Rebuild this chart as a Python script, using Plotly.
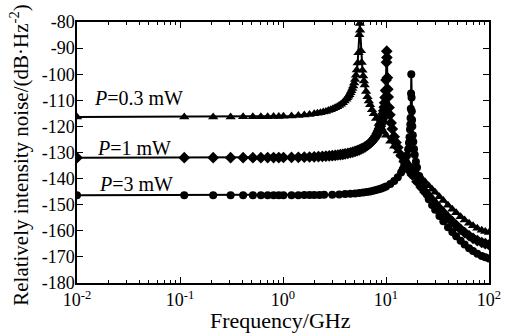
import plotly.graph_objects as go

# ---- data ----
freq_03 = [0.01, 0.11, 0.21, 0.31, 0.41, 0.51, 0.61, 0.71, 0.81, 0.91, 1.01, 1.21, 1.41, 1.61, 1.81, 2.01,
           2.16, 2.31, 2.46, 2.61, 2.76, 2.91, 3.06, 3.21, 3.36, 3.51, 3.66, 3.81, 3.96, 4.11, 4.21, 4.31,
           4.41, 4.51, 4.61, 4.71, 4.81, 4.91, 5.01, 5.11, 5.21, 5.31, 5.41,
           5.51, 5.57, 5.61, 5.71, 5.81, 5.91, 6.01, 6.11, 6.21, 6.41, 6.61, 6.81, 7.01, 7.31, 7.61, 8.01,
           8.51, 9.01, 9.51, 10.01, 11.01, 12.01, 13.01, 14.01, 15.01, 16.51, 18.01, 20.01, 22.01, 24.01,
           26.01, 28.01, 30.01, 33.01, 36.01, 40.01, 44.01, 48.01, 53.01, 58.01, 64.01, 70.01, 77.01, 85.01,
           92.01, 100]
rin_03 = [-116.4, -116.4, -116.39, -116.37, -116.35, -116.33, -116.3, -116.26, -116.21, -116.17, -116.11,
          -115.98, -115.82, -115.64, -115.43, -115.19,
          -114.98, -114.76, -114.52, -114.25, -113.95, -113.63, -113.28, -112.89, -112.47, -112.0, -111.49,
          -110.92, -110.28, -109.57, -109.04, -108.47,
          -107.84, -107.14, -106.36, -105.5, -104.5, -103.36, -102.02, -100.4, -98.35, -95.7, -91.75,
          -84.9, -80.57, -83.17, -90.98, -95.48, -98.49, -100.72, -102.57, -104.12, -106.63, -108.63, -110.3,
          -111.73, -113.58, -115.16, -116.98,
          -118.91, -120.58, -122.05, -123.37, -125.67, -127.65, -129.39, -130.94, -132.34, -134.23, -135.92,
          -137.92, -139.7, -141.31,
          -142.77, -144.04, -145.27, -146.93, -148.43, -150.19, -151.74, -153.11, -154.58, -155.83, -157.07,
          -158.07, -158.98, -159.76,
          -160.27, -160.69]

freq_1 = [0.01, 0.11, 0.21, 0.31, 0.41, 0.51, 0.61, 0.71, 0.81, 0.91, 1.01, 1.21, 1.41, 1.61, 1.81, 2.01,
          2.21, 2.41, 2.61, 2.81, 3.01, 3.21, 3.41, 3.61, 3.81, 4.01, 4.26, 4.51, 4.76, 5.01, 5.26, 5.51,
          5.76, 6.01, 6.26, 6.51, 6.76, 7.01, 7.21, 7.41, 7.61, 7.81, 8.01, 8.21, 8.36, 8.51, 8.66, 8.81,
          8.96, 9.11, 9.21, 9.31, 9.41, 9.51,
          9.61, 9.71, 9.81, 9.91, 10.01, 10.11, 10.17, 10.21, 10.31, 10.41, 10.51,
          10.71, 10.91, 11.21, 11.51, 12.01, 12.51, 13.01, 14.01, 15.01, 16.01, 17.01, 18.01, 20.01, 22.01,
          24.01, 26.01, 28.01, 30.01, 33.01, 36.01, 40.01, 44.01, 48.01, 53.01, 58.01, 64.01, 70.01, 77.01,
          85.01, 92.01, 100]
rin_1 = [-132.0, -132.0, -132.0, -131.99, -131.99, -131.98, -131.97, -131.96, -131.94, -131.93, -131.91,
         -131.88, -131.83, -131.78, -131.72, -131.65,
         -131.58, -131.5, -131.41, -131.31, -131.2, -131.09, -130.96, -130.83, -130.69, -130.53, -130.32,
         -130.1, -129.85, -129.59, -129.3, -128.98,
         -128.64, -128.27, -127.86, -127.42, -126.94, -126.4, -125.93, -125.43, -124.87, -124.26, -123.59,
         -122.84, -122.22, -121.54, -120.78, -119.95,
         -119.0, -117.92, -117.1, -116.19, -115.16, -113.98,
         -112.63, -110.98, -108.91, -106.2, -102.24, -95.44, -91.17, -93.6, -101.32, -105.75, -108.73,
         -112.75, -115.57, -118.65, -120.97, -123.93, -126.21, -128.08, -131.07, -133.43, -135.4, -137.1,
         -138.6, -141.17, -143.33,
         -145.21, -146.83, -148.31, -149.65, -151.45, -153.05, -154.91, -156.52, -157.91, -159.41, -160.67,
         -161.89, -162.87, -163.74,
         -164.48, -164.95, -165.34]

freq_3 = [0.01, 0.11, 0.21, 0.31, 0.41, 0.51, 0.61, 0.71, 0.81, 0.91, 1.01, 1.21, 1.41, 1.61, 1.81, 2.01,
          2.26, 2.51, 3.01, 3.51, 4.01, 4.51, 5.01, 5.51, 6.01, 6.51, 7.01, 7.51, 8.01, 8.51, 9.01, 9.51,
          10.01, 11.01, 12.01, 13.01, 14.01, 14.51, 15.01, 15.51, 16.01, 16.41, 16.71, 16.91, 17.11, 17.21,
          17.31, 17.41, 17.51, 17.6, 17.71, 17.81, 17.91, 18.01, 18.21, 18.41, 18.71, 19.01, 19.51, 20.01,
          21.01, 22.01, 23.01, 24.01, 26.01, 28.01, 30.01, 33.01, 36.01, 40.01, 44.01, 48.01, 53.01, 58.01,
          64.01, 70.01, 77.01, 85.01, 92.01, 100]
rin_3 = [-146.4, -146.4, -146.4, -146.4, -146.4, -146.39, -146.39, -146.39, -146.38, -146.38, -146.37,
         -146.36, -146.34, -146.33, -146.31, -146.29,
         -146.26, -146.22, -146.14, -146.05, -145.94, -145.81, -145.67, -145.5, -145.32, -145.12, -144.9,
         -144.65, -144.38, -144.09, -143.76, -143.4,
         -143.0, -142.09, -140.96, -139.53, -137.68, -136.51, -135.11, -133.38, -131.14, -128.73, -126.28,
         -124.13, -121.23, -119.29,
         -116.77, -113.24, -107.43, -100.01, -108.96, -114.18, -117.5, -119.91, -123.37, -125.88, -128.69,
         -130.84, -133.59, -135.73,
         -138.97, -141.42, -143.42, -145.1, -147.87, -150.08, -151.97, -154.35, -156.35, -158.6, -160.49,
         -162.11, -163.82, -165.25,
         -166.65, -167.76, -168.77, -169.62, -170.17, -170.63]

x_tickvals = [0.01, 0.1, 1, 10, 100]
x_ticktext = ["10<sup>-2</sup>", "10<sup>-1</sup>", "10<sup>0</sup>", "10<sup>1</sup>", "10<sup>2</sup>"]
y_tickvals = [-80, -90, -100, -110, -120, -130, -140, -150, -160, -170, -180]
y_ticktext = ["-80", "-90", "-100", "-110", "-120", "-130", "-140", "-150", "-160", "-170", "-180"]

series = [
    ("P=0.3 mW", freq_03, rin_03, "triangle-up", 9),
    ("P=1 mW", freq_1, rin_1, "diamond", 9),
    ("P=3 mW", freq_3, rin_3, "circle", 8),
]

FONT = "Times New Roman"

fig = go.Figure()
for name, fx, fy, sym, sz in series:
    fig.add_trace(go.Scatter(
        x=fx, y=fy, name=name, mode="lines+markers",
        line=dict(color="black", width=2),
        marker=dict(symbol=sym, size=sz, color="black", line=dict(width=0)),
        showlegend=False, hoverinfo="skip",
    ))

fig.update_layout(
    width=513, height=334,
    margin=dict(l=77, r=14, t=15, b=51),
    paper_bgcolor="white", plot_bgcolor="white",
    font=dict(family=FONT, size=18, color="black"),
)

fig.update_xaxes(
    type="log", range=[-2, 2],
    tickvals=x_tickvals, ticktext=x_ticktext,
    ticks="inside", ticklen=6, tickwidth=1.2, tickcolor="black",
    minor=dict(ticks="inside", ticklen=3, tickwidth=1, tickcolor="black", dtick="D1", showgrid=False),
    showline=True, linecolor="black", linewidth=1.5, mirror="allticks",
    showgrid=False, zeroline=False,
    tickfont=dict(family=FONT, size=18, color="black"),
)
fig.update_yaxes(
    range=[-180, -80], tickvals=y_tickvals, ticktext=y_ticktext,
    ticks="inside", ticklen=6, tickwidth=1.2, tickcolor="black",
    ticklabelstandoff=-3,
    showline=True, linecolor="black", linewidth=1.5, mirror="allticks",
    showgrid=False, zeroline=False,
    tickfont=dict(family=FONT, size=18, color="black"),
)

labels = [
    ("<i>P</i>=0.3 mW", 0.037, 0.7095),
    ("<i>P</i>=1 mW", 0.0427, 0.5158),
    ("<i>P</i>=3 mW", 0.0474, 0.379),
]
for txt, px, py in labels:
    fig.add_annotation(text=txt, x=px, y=py, xref="paper", yref="paper",
                       xanchor="left", yanchor="middle", showarrow=False,
                       font=dict(family=FONT, size=20, color="black"))

fig.add_annotation(text="Relatively intensity noise/(dB·Hz<sup>-2</sup>)",
                   x=-0.14, y=0.4925, xref="paper", yref="paper", textangle=-90,
                   xanchor="center", yanchor="middle", showarrow=False,
                   font=dict(family=FONT, size=21, color="black"))
fig.add_annotation(text="Frequency/GHz", x=0.493, y=-0.145, xref="paper", yref="paper",
                   xanchor="center", yanchor="middle", showarrow=False,
                   font=dict(family=FONT, size=22, color="black"))

fig.write_html("out.html", config={"displayModeBar": False},
               post_script="document.body.style.margin='0px';")
